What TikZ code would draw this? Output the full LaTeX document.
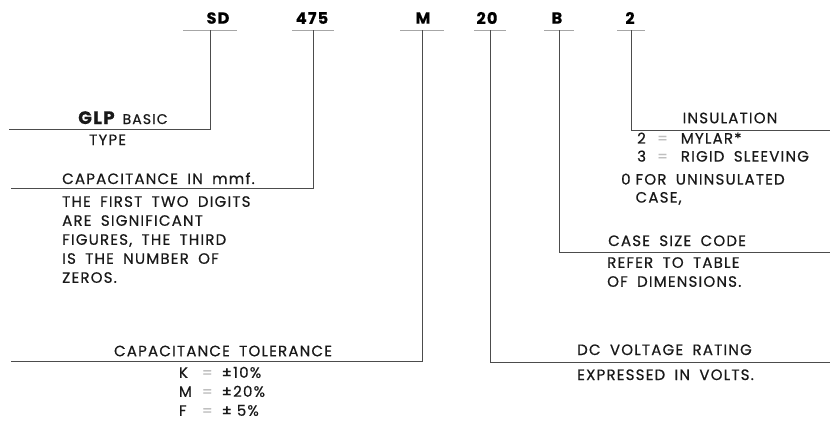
\documentclass[tikz,border=0pt]{standalone}
\usepackage{fontspec}
\setmainfont{Poppins}[LetterSpace=8, WordSpace=1.8, FakeBold=0.6]
\usetikzlibrary{positioning}

\begin{document}
\begin{tikzpicture}[x=1pt, y=-1pt,
    code/.style={font=\bfseries\fontsize{16}{16}\selectfont, inner sep=0pt},
    lbl/.style={font=\fontsize{15}{19}\selectfont, inner sep=0pt, text=black!90},
    uline/.style={draw=gray!70, line width=0.9pt},
    lead/.style={draw=black!70, line width=0.9pt}]
  \useasboundingbox (0,0) rectangle (830,421);
  % the code letters, each with its underline
  \foreach \nm/\txt/\cx/\vx/\hw in {sd/SD/218/210/27, cap/475/312/313/21,
      tol/M/423/422/22, volt/20/487/490/16, size/B/557/559/15, ins/2/630/631/14} {
    \node[code] (\nm) at (\cx,18) {\txt};
    \coordinate (\nm-f) at (\vx,30);
    \draw[uline] ([xshift=-\hw pt]\nm-f) -- ([xshift=\hw pt]\nm-f);
  }
  % leader ends
  \coordinate (sd-e)   at (9,129);
  \coordinate (cap-e)  at (11,188);
  \coordinate (tol-e)  at (11,361);
  \coordinate (volt-e) at (830,362);
  \coordinate (size-e) at (830,252);
  \coordinate (ins-e)  at (830,130);
  \foreach \nm in {sd, cap, tol, volt, size, ins}
    \draw[lead] (\nm-f) |- (\nm-e);

  % left side
  \node[lbl, anchor=base west] (glp) at (78,124)
    {{\bfseries\fontsize{18}{18}\selectfont GLP}\hspace{8pt}{\fontsize{14}{14}\selectfont BASIC}};
  \node[lbl, anchor=base west] (type) at (89,145) {TYPE};
  \node[lbl, anchor=base west] (capin) at (62,184) {CAPACITANCE IN mmf.};
  \node[lbl, anchor=north west, align=left] (digits) at (62,196)
    {THE FIRST TWO DIGITS\\ARE SIGNIFICANT\\FIGURES, THE THIRD\\IS THE NUMBER OF\\ZEROS.};
  \node[lbl] (tolhd) at (223,351) {CAPACITANCE TOLERANCE};
  \node[lbl] (tolval) at (222,393)
    {\begin{tabular}{@{}l@{\hspace{10pt}}l@{\hspace{9pt}}l@{}}
       K & {\color{gray!50}=} & ±10\% \\
       M & {\color{gray!50}=} & ±20\% \\
       F & {\color{gray!50}=} & ±\hphantom{1}5\%
     \end{tabular}};

  % right side
  \node[lbl] (insul) at (730,118) {INSULATION};
  \node[lbl, anchor=west] (insval) at (637,149)
    {\fontsize{15}{18}\selectfont\begin{tabular}{@{}l@{\hspace{11pt}}l@{\hspace{13pt}}l@{}}
       2 & {\color{gray!50}=} & MYLAR* \\
       3 & {\color{gray!50}=} & RIGID SLEEVING
     \end{tabular}};
  \node[lbl, anchor=west] (uninsul) at (621,190)
    {\fontsize{15}{18}\selectfont\begin{tabular}{@{}l@{\hspace{5pt}}l@{}}
       0 & FOR UNINSULATED \\
         & CASE,
     \end{tabular}};
  \node[lbl, anchor=base west] (sizehd) at (608,246) {CASE SIZE CODE};
  \node[lbl, anchor=north west, align=left] (refer) at (607,257)
    {REFER TO TABLE\\OF DIMENSIONS.};
  \node[lbl, anchor=base west] (volthd) at (577,355) {DC VOLTAGE RATING};
  \node[lbl, anchor=base west] (voltx) at (577,380) {EXPRESSED IN VOLTS.};
\end{tikzpicture}
\end{document}
